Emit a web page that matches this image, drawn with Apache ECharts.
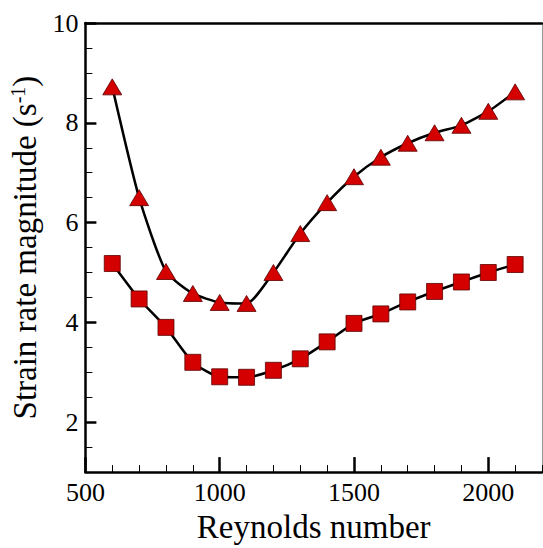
<!DOCTYPE html>
<html>
<head>
<meta charset="utf-8">
<script src="https://cdn.jsdelivr.net/npm/echarts@6/dist/echarts.min.js"></script>
<style>
  html, body { margin: 0; padding: 0; background: #fff; }
  #chart { width: 543px; height: 548px; }
</style>
</head>
<body>
<div id="chart"></div>
<script>
// Reynolds numbers
const reynolds = [600, 700, 800, 900, 1000, 1100, 1200, 1300, 1400, 1500, 1600, 1700, 1800, 1900, 2000, 2100];
// upper curve (triangles)
const triValues = [8.72, 6.5, 5.02, 4.58, 4.4, 4.38, 5.0, 5.78, 6.4, 6.92, 7.31, 7.59, 7.8, 7.95, 8.23, 8.62];
// lower curve (squares)
const sqValues = [5.18, 4.47, 3.9, 3.2, 2.91, 2.9, 3.04, 3.27, 3.61, 3.98, 4.17, 4.41, 4.62, 4.81, 5.0, 5.16];

const xTicks = [500, 1000, 1500, 2000];
const yTicks = [2, 4, 6, 8, 10];

const FONT = 'Liberation Serif';
const RED = '#d40000';

const pairs = (ys) => reynolds.map((x, i) => [x, ys[i]]);

const chart = echarts.init(document.getElementById('chart'), null, { renderer: 'svg' });

const option = {
  animation: false,
  textStyle: { fontFamily: FONT },
  grid: { left: 82, right: 1, top: 23, bottom: 66, containLabel: false },
  xAxis: [
    {
      type: 'value', position: 'bottom', min: 500, max: 2200,
      name: 'Reynolds number', nameLocation: 'middle', nameGap: 37,
      nameTextStyle: { fontFamily: FONT, fontSize: 33, color: '#000' },
      axisLine: { show: true, lineStyle: { color: '#000', width: 2.5 } },
      axisTick: { show: true, inside: true, length: 15, customValues: xTicks, lineStyle: { color: '#000', width: 2.5 } },
      axisLabel: {
        customValues: xTicks, margin: 7, fontFamily: FONT, fontSize: 26, color: '#000',
        formatter: (v) => String(v)
      },
      splitLine: { show: false }
    },
    {
      // minor ticks
      type: 'value', position: 'bottom', offset: 0, min: 500, max: 2200, interval: 100,
      axisLine: { show: false },
      axisTick: { show: true, inside: true, length: 7, lineStyle: { color: '#000', width: 1 } },
      axisLabel: { show: false },
      splitLine: { show: false }
    },
    {
      // top frame
      type: 'value', position: 'top', offset: 0, min: 500, max: 2200,
      axisLine: { show: true, lineStyle: { color: '#000', width: 2.5 } },
      axisTick: { show: false },
      axisLabel: { show: false },
      splitLine: { show: false }
    }
  ],
  yAxis: [
    {
      type: 'value', position: 'left', min: 1, max: 10,
      name: 'Strain rate magnitude (s{sup|-1})', nameLocation: 'middle', nameGap: 31,
      nameTextStyle: {
        fontFamily: FONT, fontSize: 33, color: '#000',
        rich: { sup: { fontFamily: FONT, fontSize: 20, color: '#000', verticalAlign: 'top', padding: [0, 0, 14, 0] } }
      },
      axisLine: { show: true, lineStyle: { color: '#000', width: 2.5 } },
      axisTick: { show: true, inside: true, length: 11, customValues: yTicks, lineStyle: { color: '#000', width: 2.5 } },
      axisLabel: {
        customValues: yTicks, margin: 7, fontFamily: FONT, fontSize: 26, color: '#000',
        formatter: (v) => String(v)
      },
      splitLine: { show: false }
    },
    {
      // minor ticks
      type: 'value', position: 'left', offset: 0, min: 1, max: 10, interval: 0.5,
      axisLine: { show: false },
      axisTick: { show: true, inside: true, length: 7, lineStyle: { color: '#000', width: 1 } },
      axisLabel: { show: false },
      splitLine: { show: false }
    },
    {
      // right frame
      type: 'value', position: 'right', offset: 0, min: 1, max: 10,
      axisLine: { show: true, lineStyle: { color: '#999', width: 1 } },
      axisTick: { show: false },
      axisLabel: { show: false },
      splitLine: { show: false }
    }
  ],
  series: [
    {
      type: 'line', data: pairs(triValues), smooth: 0.2,
      symbol: 'triangle', symbolSize: [19, 16],
      lineStyle: { color: '#000', width: 2.5 },
      itemStyle: { color: RED, borderColor: '#5a0000', borderWidth: 0.8 },
      z: 3
    },
    {
      type: 'line', data: pairs(sqValues), smooth: 0.2,
      symbol: 'rect', symbolSize: 16,
      lineStyle: { color: '#000', width: 2.5 },
      itemStyle: { color: RED, borderColor: '#5a0000', borderWidth: 0.8 },
      z: 3
    }
  ]
};

chart.setOption(option);

// redraw once the font is surely available (text gets measured again)
if (document.fonts && document.fonts.load) {
  document.fonts.load('26px "Liberation Serif"').then(() => {
    chart.clear();
    chart.setOption(option);
  });
}
</script>
</body>
</html>
